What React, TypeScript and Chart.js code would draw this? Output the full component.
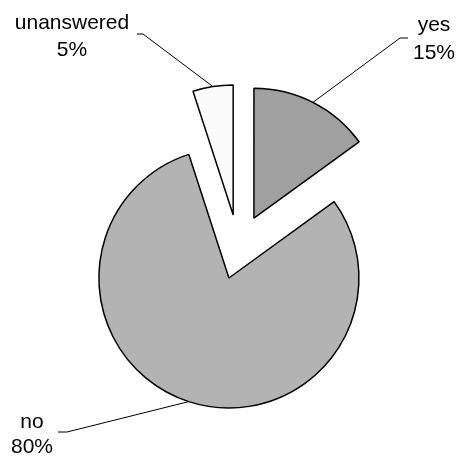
import React, { useEffect, useRef } from "react";
import { Chart, registerables } from "chart.js";

Chart.register(...registerables);

const categories = ["yes", "no", "unanswered"];
const values = [15, 80, 5];
const percentLabels = ["15%", "80%", "5%"];
const sliceColors = ["#a0a0a0", "#b3b3b3", "#fafafa"];
// explode distance in pixels for each slice
const sliceShift = [34, 31, 34];

// label layout (text centre positions and leader-line stub)
const labelLayout = [
  { x: 434, y1: 25, y2: 53, stubFrom: [408, 38], stubTo: [400, 38] },
  { x: 32, y1: 422, y2: 447, stubFrom: [58, 432], stubTo: [67, 432] },
  { x: 72, y1: 23, y2: 50, stubFrom: [137, 34], stubTo: [143, 34] },
];

// moves each slice outward along its mid angle (exploded pie)
const explodePlugin = {
  id: "explode",
  afterDatasetUpdate(chart: any, args: any) {
    const meta = chart.getDatasetMeta(args.index);
    meta.data.forEach((arc: any, i: number) => {
      const mid = (arc.startAngle + arc.endAngle) / 2;
      arc.x += Math.cos(mid) * sliceShift[i];
      arc.y += Math.sin(mid) * sliceShift[i];
    });
  },
};

const leaderPlugin = {
  id: "leaderLabels",
  afterDatasetsDraw(chart: any) {
    const ctx = chart.ctx;
    const meta = chart.getDatasetMeta(0);
    ctx.save();
    ctx.font = "21px 'Liberation Sans', Arial, sans-serif";
    ctx.fillStyle = "#000";
    ctx.strokeStyle = "#000";
    ctx.lineWidth = 1;
    ctx.textAlign = "center";
    ctx.textBaseline = "middle";
    meta.data.forEach((arc: any, i: number) => {
      const mid = (arc.startAngle + arc.endAngle) / 2;
      const ex = arc.x + Math.cos(mid) * arc.outerRadius;
      const ey = arc.y + Math.sin(mid) * arc.outerRadius;
      const L = labelLayout[i];
      ctx.beginPath();
      ctx.moveTo(L.stubFrom[0], L.stubFrom[1]);
      ctx.lineTo(L.stubTo[0], L.stubTo[1]);
      ctx.lineTo(ex, ey);
      ctx.stroke();
      ctx.fillText(categories[i], L.x, L.y1);
      ctx.fillText(percentLabels[i], L.x, L.y2);
    });
    ctx.restore();
  },
};

export default function App() {
  const ref = useRef<HTMLCanvasElement | null>(null);
  useEffect(() => {
    if (!ref.current) return;
    const chart = new Chart(ref.current, {
      type: "pie",
      data: {
        labels: categories,
        datasets: [
          {
            data: values,
            backgroundColor: sliceColors,
            borderColor: "#000",
            borderWidth: 1.5,
            offset: 0,
            hoverOffset: 0,
          } as any,
        ],
      },
      options: {
        animation: false,
        responsive: true,
        maintainAspectRatio: false,
        radius: 130,
        layout: { padding: { left: 17, top: 40, right: 0, bottom: 0 } },
        plugins: {
          legend: { display: false },
          tooltip: { enabled: false },
        },
        events: [],
      } as any,
      plugins: [explodePlugin, leaderPlugin],
    });
    return () => chart.destroy();
  }, []);
  return (
    <div style={{ position: "fixed", left: 0, top: 0, width: 460, height: 457, background: "#fff" }}>
      <canvas ref={ref} />
    </div>
  );
}
